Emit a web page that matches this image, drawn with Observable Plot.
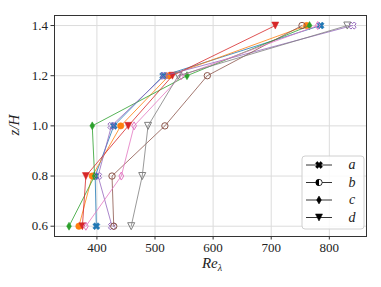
<!DOCTYPE html>
<html><head><meta charset="utf-8">
<script src="https://cdn.jsdelivr.net/npm/d3@7"></script>
<script src="https://cdn.jsdelivr.net/npm/@observablehq/plot@0.6"></script>
<style>
body{margin:0;background:#fff}
#wrap{position:relative;width:381px;height:287px}
</style>
</head><body><div id="wrap"></div>
<script>
// z/H levels
const heights = [0.6, 0.8, 1.0, 1.2, 1.4];
// Re_lambda values per series (ordered by heights)
const blueA   = [399, 397, 429, 514, 785];
const orangeB = [369, 392, 441, 524, 761];
const greenC  = [352, 396, 392, 555, 766];
const redD    = [375, 381, 454, 530, 707];
const purpleA = [426, 402, 425, 516, 840];
const brownB  = [429, 426, 517, 590, 753];
const pinkC   = [381, 442, 464, 545, 780];
const grayD   = [459, 478, 488, 540, 831];
const xTicks = [400, 500, 600, 700, 800];
const yTicks = [0.6, 0.8, 1.0, 1.2, 1.4];
const legendLabels = ["a", "b", "c", "d"];
const FONT = "'Liberation Serif', 'Times New Roman', serif";

// custom marker shapes
const rOf = s => Math.sqrt(s / Math.PI);
const xSym = {draw(ctx, size) {
  const r = rOf(size) * 1.15, w = r * 0.36;
  const pts = [[-w,-r],[w,-r],[w,-w],[r,-w],[r,w],[w,w],[w,r],[-w,r],[-w,w],[-r,w],[-r,-w],[-w,-w]];
  const c = Math.SQRT1_2;
  pts.forEach(([x,y],i) => { const X = c*(x-y), Y = c*(x+y); i ? ctx.lineTo(X,Y) : ctx.moveTo(X,Y); });
  ctx.closePath();
}};
const thinDiamond = {draw(ctx, size) {
  const r = rOf(size) * 1.25;
  ctx.moveTo(0,-r); ctx.lineTo(0.6*r,0); ctx.lineTo(0,r); ctx.lineTo(-0.6*r,0); ctx.closePath();
}};
const triDown = {draw(ctx, size) {
  const r = rOf(size) * 1.1;
  ctx.moveTo(-r,-r); ctx.lineTo(r,-r); ctx.lineTo(0,r); ctx.closePath();
}};
const circleSym = {draw(ctx, size) { const r = rOf(size); ctx.moveTo(r,0); ctx.arc(0,0,r,0,2*Math.PI); }};
const halfLeft = {draw(ctx, size) { const r = rOf(size); ctx.moveTo(0,-r); ctx.arc(0,0,r,-Math.PI/2,Math.PI/2,true); ctx.closePath(); }};

const series = [
  {vals: blueA,   color: "#1f77b4", sym: xSym,        filled: true},
  {vals: orangeB, color: "#ff7f0e", sym: circleSym,   filled: true},
  {vals: greenC,  color: "#2ca02c", sym: thinDiamond, filled: true},
  {vals: redD,    color: "#d62728", sym: triDown,     filled: true},
  {vals: purpleA, color: "#9467bd", sym: xSym,        filled: false},
  {vals: brownB,  color: "#8c564b", sym: circleSym,   filled: false},
  {vals: pinkC,   color: "#e377c2", sym: thinDiamond, filled: false},
  {vals: grayD,   color: "#7f7f7f", sym: triDown,     filled: false}
];

const marks = [
  Plot.gridX(xTicks, {stroke: "#dcdcdc", strokeOpacity: 1, strokeWidth: 1}),
  Plot.gridY(yTicks, {stroke: "#dcdcdc", strokeOpacity: 1, strokeWidth: 1}),
  Plot.axisX(xTicks, {tickSize: 3.5, tickPadding: 3, label: null, stroke: "#333", fontSize: 13}),
  Plot.axisY(yTicks, {tickSize: 3.5, tickPadding: 3, label: null, tickFormat: d3.format(".1f"), stroke: "#333", fontSize: 13})
];
for (const s of series) {
  const data = heights.map((z, i) => ({x: s.vals[i], z}));
  marks.push(Plot.line(data, {x: "x", y: "z", stroke: s.color, strokeWidth: 0.8}));
  marks.push(Plot.dot(data, {x: "x", y: "z", symbol: s.sym, r: 3.2,
    fill: s.filled ? s.color : "none", stroke: s.color, strokeWidth: s.filled ? 0.5 : 1}));
}
marks.push(Plot.frame({stroke: "#333", strokeWidth: 1}));

const chart = Plot.plot({
  width: 381, height: 287,
  marginLeft: 54, marginRight: 15, marginTop: 15, marginBottom: 51,
  style: {fontFamily: FONT, fontSize: "13px", background: "white", color: "#222"},
  x: {domain: [327, 864]},
  y: {domain: [0.559, 1.44]},
  marks
});
document.getElementById("wrap").appendChild(chart);

const svg = d3.select(chart);
const xl = svg.append("text").attr("x", 212).attr("y", 268).attr("text-anchor", "middle")
  .style("font-family", FONT).style("font-size", "15px").style("font-style", "italic").attr("fill", "#222");
xl.append("tspan").text("Re");
xl.append("tspan").attr("dy", 3).style("font-size", "10px").text("λ");
svg.append("text").attr("transform", "translate(19,125) rotate(-90)").attr("text-anchor", "middle")
  .style("font-family", FONT).style("font-size", "15px").style("font-style", "italic").attr("fill", "#222")
  .text("z/H");

// legend
const lg = svg.append("g");
lg.append("rect").attr("x", 302).attr("y", 156).attr("width", 62).attr("height", 73).attr("rx", 3)
  .attr("fill", "white").attr("fill-opacity", 0.85).attr("stroke", "#d0d0d0");
const legSyms = [xSym, "half", thinDiamond, triDown];
legendLabels.forEach((lab, i) => {
  const y = 165 + i * 17.5;
  lg.append("line").attr("x1", 306).attr("x2", 332).attr("y1", y).attr("y2", y).attr("stroke", "#000").attr("stroke-width", 0.8);
  const size = Math.PI * 3.2 * 3.2;
  const g = lg.append("g").attr("transform", `translate(319,${y})`);
  if (legSyms[i] === "half") {
    g.append("path").attr("d", d3.symbol(circleSym, size)()).attr("fill", "white").attr("stroke", "#000").attr("stroke-width", 0.8);
    g.append("path").attr("d", d3.symbol(halfLeft, size)()).attr("fill", "#000");
  } else {
    g.append("path").attr("d", d3.symbol(legSyms[i], size)()).attr("fill", "#000").attr("stroke", "#000").attr("stroke-width", 0.5);
  }
  lg.append("text").attr("x", 352).attr("y", y).attr("dy", "0.32em").attr("text-anchor", "middle")
    .style("font-family", FONT).style("font-size", "14px").style("font-style", "italic").attr("fill", "#222")
    .text(lab);
});
</script>
</body></html>
